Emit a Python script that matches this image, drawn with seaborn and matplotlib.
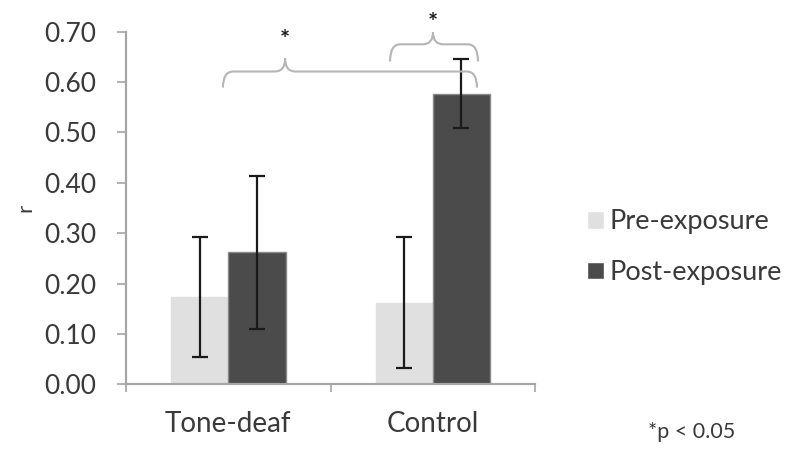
import matplotlib
matplotlib.use("Agg")
import matplotlib.pyplot as plt
from matplotlib.path import Path
from matplotlib.patches import PathPatch
import seaborn as sns
import pandas as pd
import numpy as np

groups = ["Tone-deaf", "Control"]
conditions = ["Pre-exposure", "Post-exposure"]
pre_means = [0.173, 0.162]
post_means = [0.262, 0.577]
pre_err = [0.119, 0.130]
post_err = [0.152, 0.069]
yticks = [0.0, 0.1, 0.2, 0.3, 0.4, 0.5, 0.6, 0.7]

df = pd.DataFrame({
    "group": groups * 2,
    "condition": [conditions[0]] * 2 + [conditions[1]] * 2,
    "r": pre_means + post_means,
})
errs = [pre_err, post_err]

sns.set_theme(style="white")
plt.rcParams["font.family"] = ["Lato", "DejaVu Sans"]
text_col = "#3a3a3a"
axis_col = "#a6a6a6"

fig = plt.figure(figsize=(8, 4.55), dpi=100)
ax = fig.add_axes([0.1575, 0.1554, 0.5113, 0.7749])

palette = {conditions[0]: "#e0e0e0", conditions[1]: "#4b4b4b"}
sns.barplot(data=df, x="group", y="r", hue="condition", order=groups,
            hue_order=conditions, palette=palette, width=0.56, gap=0,
            saturation=1, errorbar=None, ax=ax, legend=True)

edge_cols = ["#e0e0e0", "#8a8a8a"]
for cont, err, ec in zip(ax.containers, errs, edge_cols):
    xs = []
    ys = []
    for bar in cont:
        bar.set_edgecolor(ec)
        bar.set_linewidth(1.0)
        xs.append(bar.get_x() + bar.get_width() / 2)
        ys.append(bar.get_height())
    ax.errorbar(xs, ys, yerr=err, fmt="none", ecolor="#1a1a1a",
                elinewidth=1.6, capsize=6, capthick=1.6, zorder=5)

ax.set_xlim(-0.5, 1.5)
ax.set_ylim(0, 0.70)
ax.set_yticks(yticks)
ax.set_yticklabels([f"{v:.2f}" for v in yticks])
ax.set_xlabel("")
ax.set_ylabel("r", rotation=90, fontsize=16, color=text_col)
ax.yaxis.set_label_coords(-0.222, 0.50)

for s in ["top", "right"]:
    ax.spines[s].set_visible(False)
for s in ["left", "bottom"]:
    ax.spines[s].set_color(axis_col)
    ax.spines[s].set_linewidth(1.6)

ax.tick_params(axis="y", which="major", direction="out", length=6.5, width=1.2,
               color=axis_col, labelsize=19, labelcolor=text_col, pad=15, left=True)
ax.set_xticks([-0.5, 0.5, 1.5], minor=True)
ax.tick_params(axis="x", which="minor", direction="out", length=6, width=1.2,
               color=axis_col, bottom=True)
ax.tick_params(axis="x", which="major", length=0, labelsize=20,
               labelcolor=text_col, pad=19)

# significance braces (data coordinates)
def brace(x0, x1, xt, yline, yend, ytip, r=0.05, color="#b5b5b5"):
    verts = [(x0, yend), (x0, yline), (x0 + r, yline),
             (xt - r, yline), (xt, yline), (xt, ytip),
             (xt, yline), (xt + r, yline),
             (x1 - r, yline), (x1, yline), (x1, yend)]
    codes = [Path.MOVETO, Path.CURVE3, Path.CURVE3,
             Path.LINETO, Path.CURVE3, Path.CURVE3,
             Path.CURVE3, Path.CURVE3,
             Path.LINETO, Path.CURVE3, Path.CURVE3]
    p = PathPatch(Path(verts, codes), fill=False, edgecolor=color, lw=1.5,
                  clip_on=False, zorder=6)
    ax.add_patch(p)

brace(-0.026, 1.216, 0.278, 0.621, 0.589, 0.647)
brace(0.791, 1.221, 1.001, 0.675, 0.641, 0.699)
ax.text(0.278, 0.682, "*", ha="center", va="center", fontsize=17,
        color="#1a1a1a", clip_on=False, fontweight="bold")
ax.text(1.001, 0.717, "*", ha="center", va="center", fontsize=17,
        color="#1a1a1a", clip_on=False, fontweight="bold")

leg = ax.legend(loc="upper left", bbox_to_anchor=(0.734, 0.540),
                bbox_transform=fig.transFigure, frameon=False, fontsize=19.5,
                handlelength=0.63, handleheight=0.63, handletextpad=0.2,
                labelspacing=0.95, borderaxespad=0, borderpad=0)
for t in leg.get_texts():
    t.set_color(text_col)

fig.text(0.81, 0.051, "*p < 0.05", fontsize=15.5, color=text_col,
         ha="left", va="center")

fig.savefig("out.png", dpi=100)
